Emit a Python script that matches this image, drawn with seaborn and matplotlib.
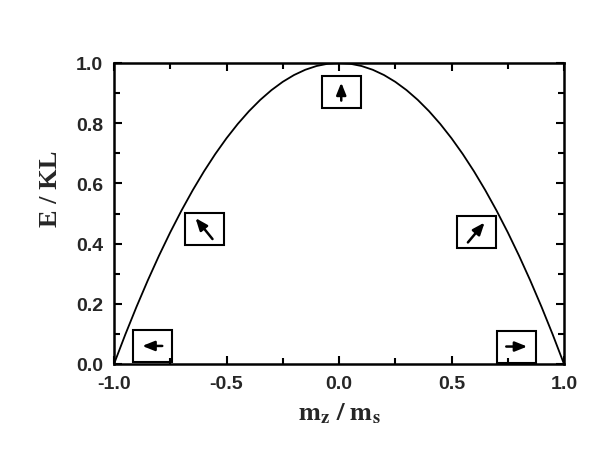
import numpy as np
import pandas as pd
import matplotlib
matplotlib.use("Agg")
import matplotlib.pyplot as plt
from matplotlib.patches import Rectangle
import seaborn as sns

# anisotropy energy vs reduced magnetisation
mz = [-1.0, -0.95, -0.9, -0.85, -0.8, -0.75, -0.7, -0.65, -0.6, -0.55, -0.5,
      -0.45, -0.4, -0.35, -0.3, -0.25, -0.2, -0.15, -0.1, -0.05, 0.0,
      0.05, 0.1, 0.15, 0.2, 0.25, 0.3, 0.35, 0.4, 0.45, 0.5,
      0.55, 0.6, 0.65, 0.7, 0.75, 0.8, 0.85, 0.9, 0.95, 1.0]
energy = [0.0, 0.0975, 0.19, 0.2775, 0.36, 0.4375, 0.51, 0.5775, 0.64, 0.6975, 0.75,
          0.7975, 0.84, 0.8775, 0.91, 0.9375, 0.96, 0.9775, 0.99, 0.9975, 1.0,
          0.9975, 0.99, 0.9775, 0.96, 0.9375, 0.91, 0.8775, 0.84, 0.7975, 0.75,
          0.6975, 0.64, 0.5775, 0.51, 0.4375, 0.36, 0.2775, 0.19, 0.0975, 0.0]

# little boxes showing the moment direction (centre x, centre y, arrow angle in deg)
box_x = [-0.83, -0.60, 0.01, 0.61, 0.79]
box_y = [0.06, 0.45, 0.905, 0.437, 0.058]
arrow_angle = [180, 129, 90, 50, 0]
arrow_len = [20, 27, 18, 26, 21]   # pixels

xticks = [-1.0, -0.5, 0.0, 0.5, 1.0]
yticks = [0.0, 0.2, 0.4, 0.6, 0.8, 1.0]

sns.set_theme(style="white")
plt.rcParams["mathtext.fontset"] = "stix"

df = pd.DataFrame({"mz": mz, "E": energy})

W, H, DPI = 612, 460, 100
fig = plt.figure(figsize=(W / DPI, H / DPI), dpi=DPI)
ax = fig.add_axes([114 / W, (H - 365) / H, 450 / W, 301 / H])

sns.lineplot(data=df, x="mz", y="E", color="black", linewidth=1.3, ax=ax)

ax.set_xlim(-1.0, 1.0)
ax.set_ylim(0.0, 1.0)
ax.set_xticks(xticks)
ax.set_yticks(yticks)
ax.set_xticks(np.arange(-0.75, 1.0, 0.5), minor=True)
ax.set_yticks(np.arange(0.1, 1.0, 0.2), minor=True)
ax.set_xticklabels([f"{t:.1f}" for t in xticks])
ax.set_yticklabels([f"{t:.1f}" for t in yticks])

for s in ax.spines.values():
    s.set_linewidth(1.8)
    s.set_color("black")

ax.tick_params(which="both", direction="in", top=True, right=True,
               bottom=True, left=True, width=1.5, color="black")
ax.tick_params(which="major", length=6, pad=8, labelsize=14)
ax.tick_params(which="minor", length=4)
for lab in ax.get_xticklabels() + ax.get_yticklabels():
    lab.set_fontweight("bold")
    lab.set_family(["Liberation Sans", "DejaVu Sans"])

ax.set_xlabel(r"$\mathbf{m_z\ /\ m_s}$", fontsize=19, labelpad=5)
ax.set_ylabel("E / KL", fontsize=19, family="Liberation Serif", fontweight="bold")
ax.yaxis.set_label_coords(-0.115, 0.585)

# data units per pixel
ux = 2.0 / 450
uy = 1.0 / 301
bw, bh = 39 * ux, 32 * uy
for cx, cy, ang, ln in zip(box_x, box_y, arrow_angle, arrow_len):
    ax.add_patch(Rectangle((cx - bw / 2, cy - bh / 2), bw, bh, fill=False,
                           edgecolor="black", linewidth=1.5, zorder=3, clip_on=False))
    a = np.deg2rad(ang)
    dx, dy = np.cos(a) * ln / 2, np.sin(a) * ln / 2
    ax.annotate("", xy=(cx + dx * ux, cy + dy * uy), xytext=(cx - dx * ux, cy - dy * uy),
                arrowprops=dict(arrowstyle="-|>,head_length=0.6,head_width=0.24",
                                color="black", linewidth=1.8, shrinkA=0, shrinkB=0),
                zorder=4)

fig.savefig("out.png", dpi=DPI)
